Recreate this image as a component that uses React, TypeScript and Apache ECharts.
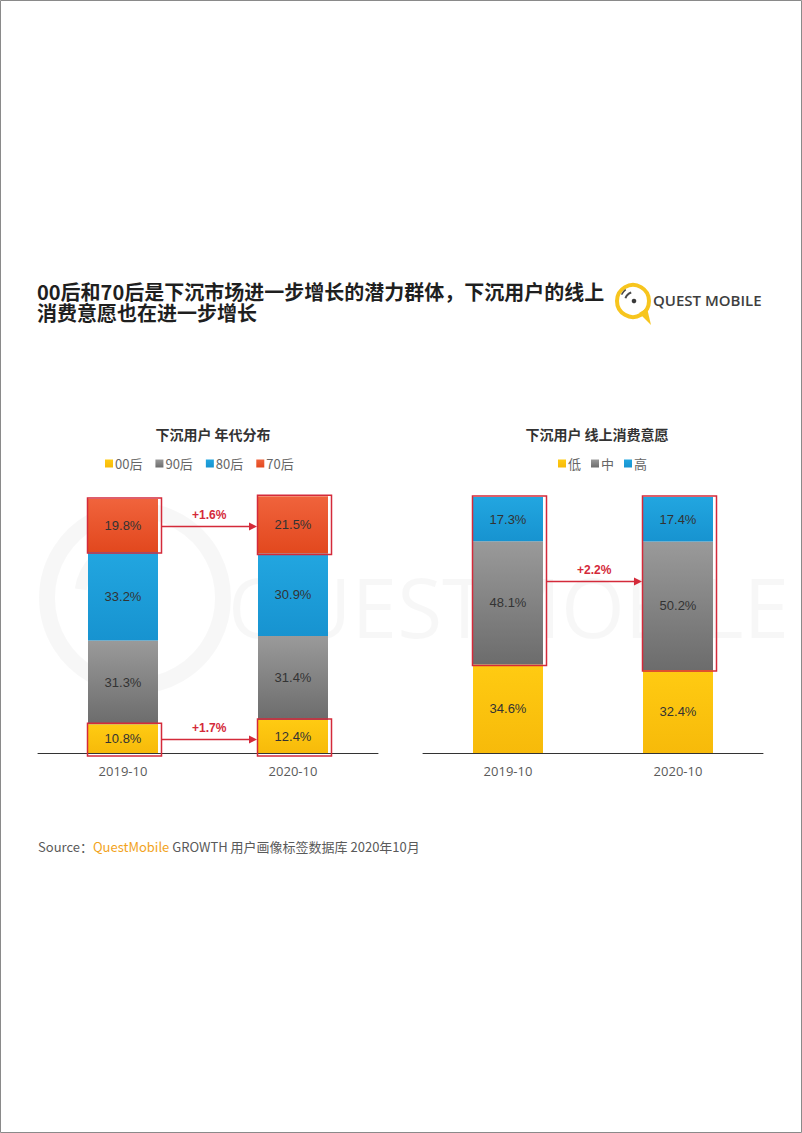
import React, { useEffect, useRef } from "react";
import * as echarts from "echarts";

// ---------- data ----------
const categories = ["2019-10", "2020-10"];

const ageNames = ["00后", "90后", "80后", "70后"];
const age00 = [10.8, 12.4];
const age90 = [31.3, 31.4];
const age80 = [33.2, 30.9];
const age70 = [19.8, 21.5];

const intentNames = ["低", "中", "高"];
const intentLow = [34.6, 32.4];
const intentMid = [48.1, 50.2];
const intentHigh = [17.3, 17.4];

const ageArrowLabels = ["+1.6%", "+1.7%"];
const intentArrowLabels = ["+2.2%"];

const titleLine1 = "00后和70后是下沉市场进一步增长的潜力群体，下沉用户的线上";
const titleLine2 = "消费意愿也在进一步增长";
const leftTitle = "下沉用户 年代分布";
const rightTitle = "下沉用户 线上消费意愿";

// ---------- derived (cumulative) ----------
const sum = (arrs: number[][], i: number) => arrs.reduce((s, a) => s + a[i], 0);
// highlighted boxes: [category, low, high]
const ageBoxes = [0, 1]
  .map((i) => [i, sum([age00, age90, age80], i), sum([age00, age90, age80, age70], i)])
  .concat([0, 1].map((i) => [i, 0, age00[i]]));
const intentBoxes = [0, 1].map((i) => [i, intentLow[i], sum([intentLow, intentMid, intentHigh], i)]);

const ageArrows = [
  [(ageBoxes[0][1] + ageBoxes[0][2]) / 2],
  [(ageBoxes[2][1] + ageBoxes[2][2]) / 2],
];
const intentArrows = [[(intentBoxes[0][1] + intentBoxes[0][2]) / 2]];

const RED = "#D42A3A";
const FONT = "'Noto Sans CJK SC', 'Noto Sans', sans-serif";

const vgrad = (a: string, b: string) =>
  new echarts.graphic.LinearGradient(0, 0, 0, 1, [
    { offset: 0, color: a },
    { offset: 1, color: b },
  ]);

const COLORS = {
  y: vgrad("#FFCB12", "#F7BA0A"),
  g: vgrad("#9A9A9A", "#6C6C6C"),
  b: vgrad("#22A6E0", "#1793D0"),
  r: vgrad("#F0633C", "#E2481E"),
};

const barLabel = {
  show: true,
  position: "inside",
  formatter: (p: any) => p.value.toFixed(1) + "%",
  color: "#333",
  fontSize: 13,
  fontFamily: "'Liberation Sans', Arial, sans-serif",
};

function boxRender(params: any, api: any) {
  const c = api.value(0);
  const lo = api.value(1);
  const hi = api.value(2);
  const p0 = api.coord([c, lo]);
  const p1 = api.coord([c, hi]);
  const top = p1[1] - 1;
  const bottom = p0[1] + (lo === 0 ? 3 : 1);
  return {
    type: "rect",
    shape: { x: p0[0] - 35.5, y: top, width: 74, height: bottom - top },
    style: { fill: "none", stroke: RED, lineWidth: 1.5 },
    z2: 10,
  };
}

function arrowRender(labels: string[]) {
  return (params: any, api: any) => {
    const v = api.value(0);
    const p0 = api.coord([0, v]);
    const p1 = api.coord([1, v]);
    const x0 = p0[0] + 38.5;
    const x1 = p1[0] - 36;
    const y = Math.round(p0[1]) + 0.5;
    return {
      type: "group",
      children: [
        {
          type: "line",
          shape: { x1: x0, y1: y, x2: x1 - 6, y2: y },
          style: { stroke: RED, lineWidth: 1.3 },
        },
        {
          type: "polygon",
          shape: { points: [[x1 - 8, y - 4], [x1, y], [x1 - 8, y + 4]] },
          style: { fill: RED },
        },
        {
          type: "text",
          style: {
            text: labels[params.dataIndex],
            x: (x0 + x1) / 2,
            y: y - 12,
            align: "center",
            verticalAlign: "middle",
            fill: RED,
            fontSize: 12,
            fontWeight: "bold",
            fontFamily: "'Liberation Sans', Arial, sans-serif",
          },
        },
      ],
    };
  };
}

export default function App() {
  const ref = useRef<HTMLDivElement>(null);
  useEffect(() => {
    if (!ref.current) return;
    const chart = echarts.init(ref.current, undefined, { renderer: "svg" });

    const xAxisBase = {
      type: "category",
      data: categories,
      axisLine: { show: true, lineStyle: { color: "#333", width: 1 } },
      axisTick: { show: false },
      axisLabel: { color: "#5a5a5a", fontSize: 13, margin: 11, fontFamily: "'Open Sans', sans-serif" },
    };
    const yAxisBase = {
      type: "value",
      min: 0,
      max: 100,
      show: false,
      splitLine: { show: false },
    };
    const legendBase = {
      icon: "rect",
      itemWidth: 8,
      itemHeight: 8,
      itemGap: 13,
      textStyle: { fontSize: 13, color: "#666", padding: [0, 0, 0, -3], fontFamily: FONT },
      selectedMode: false,
    };

    const option: any = {
      animation: false,
      backgroundColor: "#fff",
      textStyle: { fontFamily: FONT },
      title: [
        {
          text: leftTitle,
          left: 208,
          top: 422,
          textAlign: "center",
          textStyle: { fontSize: 14, fontWeight: "bold", color: "#333", fontFamily: FONT },
        },
        {
          text: rightTitle,
          left: 592,
          top: 422,
          textAlign: "center",
          textStyle: { fontSize: 14, fontWeight: "bold", color: "#333", fontFamily: FONT },
        },
      ],
      legend: [
        { ...legendBase, data: ageNames, left: 100, top: 452 },
        { ...legendBase, data: intentNames, left: 553, top: 452, itemGap: 10 },
      ],
      grid: [
        { left: 38, width: 340, top: 486, height: 267 },
        { left: 423, width: 340, top: 497, height: 256 },
      ],
      xAxis: [
        { ...xAxisBase, gridIndex: 0 },
        { ...xAxisBase, gridIndex: 1 },
      ],
      yAxis: [
        { ...yAxisBase, gridIndex: 0 },
        { ...yAxisBase, gridIndex: 1 },
      ],
      series: [
        { name: "00后", type: "bar", stack: "age", data: age00, barWidth: 70, itemStyle: { color: COLORS.y }, label: barLabel, xAxisIndex: 0, yAxisIndex: 0 },
        { name: "90后", type: "bar", stack: "age", data: age90, barWidth: 70, itemStyle: { color: COLORS.g }, label: barLabel, xAxisIndex: 0, yAxisIndex: 0 },
        { name: "80后", type: "bar", stack: "age", data: age80, barWidth: 70, itemStyle: { color: COLORS.b }, label: barLabel, xAxisIndex: 0, yAxisIndex: 0 },
        { name: "70后", type: "bar", stack: "age", data: age70, barWidth: 70, itemStyle: { color: COLORS.r }, label: barLabel, xAxisIndex: 0, yAxisIndex: 0 },
        { name: "低", type: "bar", stack: "intent", data: intentLow, barWidth: 70, itemStyle: { color: COLORS.y }, label: barLabel, xAxisIndex: 1, yAxisIndex: 1 },
        { name: "中", type: "bar", stack: "intent", data: intentMid, barWidth: 70, itemStyle: { color: COLORS.g }, label: barLabel, xAxisIndex: 1, yAxisIndex: 1 },
        { name: "高", type: "bar", stack: "intent", data: intentHigh, barWidth: 70, itemStyle: { color: COLORS.b }, label: barLabel, xAxisIndex: 1, yAxisIndex: 1 },
        {
          type: "custom",
          xAxisIndex: 0,
          yAxisIndex: 0,
          data: ageBoxes,
          encode: { x: 0, y: [1, 2] },
          renderItem: boxRender,
          z: 10,
          silent: true,
        },
        {
          type: "custom",
          xAxisIndex: 1,
          yAxisIndex: 1,
          data: intentBoxes,
          encode: { x: 0, y: [1, 2] },
          renderItem: boxRender,
          z: 10,
          silent: true,
        },
        {
          type: "custom",
          xAxisIndex: 0,
          yAxisIndex: 0,
          data: ageArrows,
          encode: { y: 0 },
          renderItem: arrowRender(ageArrowLabels),
          z: 10,
          silent: true,
        },
        {
          type: "custom",
          xAxisIndex: 1,
          yAxisIndex: 1,
          data: intentArrows,
          encode: { y: 0 },
          renderItem: arrowRender(intentArrowLabels),
          z: 10,
          silent: true,
        },
      ],
      graphic: [
        // page border
        {
          type: "rect",
          shape: { x: 0.5, y: 0.5, width: 801, height: 1132 },
          style: { fill: "none", stroke: "#8a8a8a", lineWidth: 1 },
          z: 100,
        },
        // watermark (faint)
        {
          type: "circle",
          shape: { cx: 135, cy: 598, r: 88 },
          style: { fill: "none", stroke: "rgba(0,0,0,0.03)", lineWidth: 16 },
          z: -10,
        },
        {
          type: "arc",
          shape: { cx: 135, cy: 598, r: 55, startAngle: Math.PI * 1.05, endAngle: Math.PI * 1.45 },
          style: { fill: "none", stroke: "rgba(0,0,0,0.03)", lineWidth: 12 },
          z: -10,
        },
        {
          type: "text",
          silent: true,
          style: {
            text: "QUESTMOBILE",
            x: 228,
            y: 606,
            verticalAlign: "middle",
            fontSize: 82,
            fontFamily: "'Open Sans', sans-serif",
            fill: "rgba(0,0,0,0.03)",
          },
          z: -10,
        },
        // header title
        {
          type: "text",
          style: {
            text: titleLine1 + "\n" + titleLine2,
            x: 37,
            y: 281,
            fontSize: 20,
            lineHeight: 21,
            fontWeight: "bold",
            fontFamily: FONT,
            fill: "#1f1f1f",
          },
        },
        // logo
        {
          type: "circle",
          shape: { cx: 633, cy: 301, r: 16 },
          style: { fill: "none", stroke: "#F7C51E", lineWidth: 4 },
        },
        {
          type: "polygon",
          shape: { points: [[639, 313], [651, 325], [647, 308]] },
          style: { fill: "#F7C51E" },
        },
        {
          type: "circle",
          shape: { cx: 634, cy: 301, r: 2.3 },
          style: { fill: "#3a3a3a" },
        },
        {
          type: "arc",
          shape: { cx: 634, cy: 301, r: 9, startAngle: Math.PI * 1.1, endAngle: Math.PI * 1.4 },
          style: { fill: "none", stroke: "#4a4a4a", lineWidth: 2 },
        },
        {
          type: "arc",
          shape: { cx: 634, cy: 301, r: 14, startAngle: Math.PI * 1.15, endAngle: Math.PI * 1.3 },
          style: { fill: "none", stroke: "#4a4a4a", lineWidth: 1.5 },
        },
        {
          type: "text",
          style: {
            text: "QUEST MOBILE",
            x: 653,
            y: 300,
            verticalAlign: "middle",
            fontSize: 15,
            fontWeight: 600,
            fontFamily: "'Open Sans', sans-serif",
            fill: "#3e3e3e",
          },
        },
        // source
        {
          type: "text",
          style: {
            x: 38,
            y: 846,
            verticalAlign: "middle",
            text: "{g|Source：}{o|QuestMobile}{g| GROWTH 用户画像标签数据库 2020年10月}",
            rich: {
              g: { fontSize: 13, fill: "#5a5a5a", fontFamily: FONT },
              o: { fontSize: 13, fill: "#F2A31B", fontFamily: FONT },
            },
          },
        },
      ],
    };

    chart.setOption(option);
    return () => chart.dispose();
  }, []);
  return (
    <div
      ref={ref}
      style={{ position: "absolute", left: 0, top: 0, width: 802, height: 1133, background: "#fff" }}
    />
  );
}
